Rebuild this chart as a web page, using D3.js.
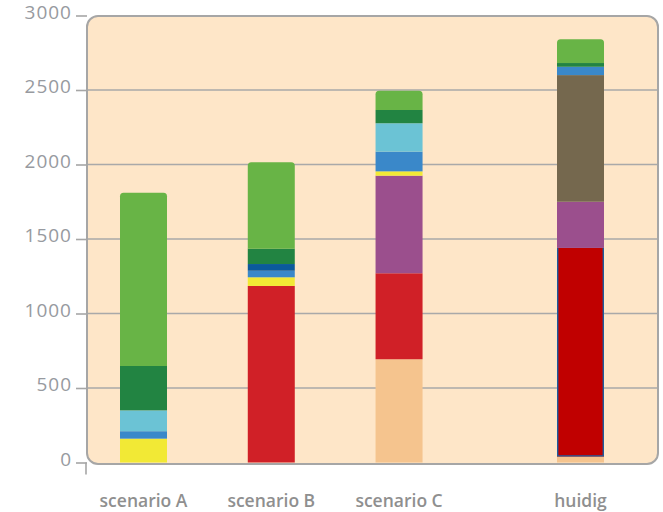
<!DOCTYPE html>
<html>
<head>
<meta charset="utf-8">
<script src="https://cdn.jsdelivr.net/npm/d3@7/dist/d3.min.js"></script>
<style>
  html, body { margin: 0; padding: 0; background: #ffffff; }
  svg { display: block; }
</style>
</head>
<body>
<svg id="chart" width="663" height="512"></svg>
<script>
// Categories along the x axis
const categories = ["scenario A", "scenario B", "scenario C", "huidig"];

// Stack segments, bottom to top, one value per category
const seriesKeys = ["perzik", "rood", "donkerrood", "paars", "bruin", "geel", "blauw", "donkerblauw", "lichtblauw", "donkergroen", "groen"];
const perzik      = [0,    0,    693, 40];
const rood        = [0,    1185, 577, 0];
const donkerrood  = [0,    0,    0,   1400];
const paars       = [0,    0,    655, 310];
const bruin       = [0,    0,    0,   850];
const geel        = [160,  58,   29,  0];
const blauw       = [50,   44,   132, 56];
const donkerblauw = [0,    45,   0,   0];
const lichtblauw  = [140,  0,    191, 0];
const donkergroen = [298,  103,  89,  25];
const groen       = [1163, 580,  129, 159];

// Y axis ticks
const yTicks = [0, 500, 1000, 1500, 2000, 2500, 3000];

const seriesValues = { perzik, rood, donkerrood, paars, bruin, geel, blauw, donkerblauw, lichtblauw, donkergroen, groen };
const seriesColors = {
  perzik: "#f5c48e", rood: "#d02027", donkerrood: "#c00000", paars: "#9b4f8d",
  bruin: "#75684e", geel: "#f2e935", blauw: "#3a88c9", donkerblauw: "#0b5a9c",
  lichtblauw: "#6bc3d5", donkergroen: "#228442", groen: "#68b446"
};

const rows = categories.map((c, i) => {
  const r = { category: c };
  seriesKeys.forEach(k => { r[k] = seriesValues[k][i]; });
  return r;
});

const svg = d3.select("#chart");
const panel = { left: 87, top: 16, right: 658, bottom: 464 };
const barWidth = 47;
const groupGap = 0.42; // extra spacing before the last (current) bar

const slot = i => i + (i >= 3 ? groupGap : 0);
const x = d3.scaleLinear().domain([0, slot(3)]).range([143.5, 580.5]);
const y = d3.scaleLinear().domain([0, 3000]).range([462.5, 15.5]);

// Background panel
svg.append("rect")
  .attr("x", panel.left).attr("y", panel.top)
  .attr("width", panel.right - panel.left).attr("height", panel.bottom - panel.top)
  .attr("rx", 11).attr("ry", 11)
  .attr("fill", "#fee6c8");

// Horizontal gridlines
svg.append("g").selectAll("line")
  .data(yTicks.filter(t => t > 0 && t < 3000))
  .join("line")
  .attr("x1", panel.left).attr("x2", panel.right)
  .attr("y1", d => y(d)).attr("y2", d => y(d))
  .attr("stroke", "#a9a9a9").attr("stroke-width", 1.6);

// Stacked bars
const stacked = d3.stack().keys(seriesKeys)(rows);
const topKey = rows.map(r => {
  let k = null;
  seriesKeys.forEach(s => { if (r[s] > 0) k = s; });
  return k;
});

function roundedTop(x0, y0, w, h, r) {
  return `M${x0},${y0 + h}V${y0 + r}Q${x0},${y0} ${x0 + r},${y0}H${x0 + w - r}Q${x0 + w},${y0} ${x0 + w},${y0 + r}V${y0 + h}Z`;
}

const bars = svg.append("g");
stacked.forEach(layer => {
  layer.forEach((seg, i) => {
    const v = seg[1] - seg[0];
    if (v <= 0) return;
    const x0 = x(slot(i)) - barWidth / 2;
    const yTop = y(seg[1]);
    const h = y(seg[0]) - y(seg[1]);
    const color = seriesColors[layer.key];
    if (topKey[i] === layer.key) {
      bars.append("path").attr("d", roundedTop(x0, yTop, barWidth, h, 3.5)).attr("fill", color);
    } else {
      bars.append("rect")
        .attr("x", x0).attr("y", yTop)
        .attr("width", barWidth).attr("height", h)
        .attr("fill", color);
      if (layer.key === "donkerrood") {
        // thin blue outline on the sides and bottom of this segment
        bars.append("path")
          .attr("d", `M${x0 + 0.7},${yTop}V${yTop + h - 0.7}H${x0 + barWidth - 0.7}V${yTop}`)
          .attr("fill", "none").attr("stroke", "#1d5d9e").attr("stroke-width", 1.4);
      }
    }
  });
});

// Panel border on top of the bars
svg.append("rect")
  .attr("x", panel.left).attr("y", panel.top)
  .attr("width", panel.right - panel.left).attr("height", panel.bottom - panel.top)
  .attr("rx", 11).attr("ry", 11)
  .attr("fill", "none").attr("stroke", "#a6a6a6").attr("stroke-width", 2);

// Y axis
const yAxis = svg.append("g")
  .attr("transform", `translate(${panel.left},0)`)
  .call(d3.axisLeft(y).tickValues(yTicks).tickSize(11).tickPadding(4).tickFormat(d3.format("d")));
yAxis.select(".domain").remove();
yAxis.selectAll(".tick line").attr("stroke", "#a6a6a6").attr("stroke-width", 1.6);
yAxis.selectAll(".tick text")
  .attr("fill", "#979aa0")
  .attr("dy", "0.15em")
  .style("font-family", "'Open Sans', sans-serif")
  .style("font-size", "19px")
  .style("letter-spacing", "1px");

// Small vertical tick under the zero line
svg.append("line")
  .attr("x1", panel.left - 1).attr("x2", panel.left - 1)
  .attr("y1", y(0)).attr("y2", y(0) + 12)
  .attr("stroke", "#a6a6a6").attr("stroke-width", 1.6);

// Category labels
svg.append("g").selectAll("text")
  .data(categories)
  .join("text")
  .attr("x", (d, i) => x(slot(i)))
  .attr("y", 506.5)
  .attr("text-anchor", "middle")
  .attr("fill", "#8f8f8f")
  .style("font-family", "'Open Sans', sans-serif")
  .style("font-weight", 600)
  .style("font-size", "17.5px")
  .text(d => d);
</script>
</body>
</html>
